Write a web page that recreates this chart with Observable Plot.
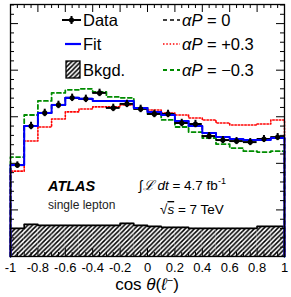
<!DOCTYPE html>
<html><head><meta charset="utf-8">
<script src="https://cdn.jsdelivr.net/npm/d3@7"></script>
<script src="https://cdn.jsdelivr.net/npm/@observablehq/plot@0.6"></script>
<style>body{margin:0;background:#fff} svg{display:block}</style>
</head><body><div id="chart"></div>
<script>
// ---- data (events per bin, arbitrary units; major y tick = 500) ----
const binEdges = [-1,-0.9,-0.8,-0.7,-0.6,-0.5,-0.4,-0.3,-0.2,-0.1,0,0.1,0.2,0.3,0.4,0.5,0.6,0.7,0.8,0.9,1];
const dataValues   = [981,1401,1541,1627,1703,1692,1756,1595,1638,1584,1530,1530,1433,1422,1293,1250,1239,1228,1261,1282];
const dataErrors   = [35,40,40,40,40,40,40,40,40,40,40,40,40,40,38,38,38,38,38,38];
const fitValues    = [981,1401,1541,1627,1703,1692,1670,1670,1670,1595,1552,1519,1455,1401,1325,1282,1261,1250,1250,1272];
const ap0Values    = [981,1401,1541,1627,1703,1692,1670,1670,1670,1595,1552,1519,1455,1401,1325,1282,1261,1250,1250,1272];
const apPlusValues = [916,1239,1390,1476,1552,1584,1606,1606,1627,1595,1573,1541,1519,1487,1466,1433,1412,1412,1422,1466];
const apMinusValues= [1067,1519,1670,1756,1789,1800,1767,1713,1703,1595,1530,1466,1390,1336,1272,1207,1164,1131,1121,1131];
const bkgValues    = [302,345,334,334,334,334,334,334,356,334,323,313,313,302,302,302,302,302,323,323];

const xMajorTicks = [-1,-0.8,-0.6,-0.4,-0.2,0,0.2,0.4,0.6,0.8,1];
const xTickLabels = ["-1","-0.8","-0.6","-0.4","-0.2","0","0.2","0.4","0.6","0.8","1"];
const xMinorTicks = [-0.95,-0.9,-0.85,-0.75,-0.7,-0.65,-0.55,-0.5,-0.45,-0.35,-0.3,-0.25,-0.15,-0.1,-0.05,0.05,0.1,0.15,0.25,0.3,0.35,0.45,0.5,0.55,0.65,0.7,0.75,0.85,0.9,0.95];
const yMajorTicks = [500,1000,1500,2000,2500];
const yMinorTicks = [100,200,300,400,600,700,800,900,1100,1200,1300,1400,1600,1700,1800,1900,2100,2200,2300,2400,2600,2700];

const legendLeft  = ["Data","Fit","Bkgd."];
const legendRight = ["= 0","= +0.3","= \u22120.3"];

// ---- helpers ----
function stepPoints(values){
  const pts=[{x:binEdges[0],y:0}];
  values.forEach((v,i)=>{pts.push({x:binEdges[i],y:v});pts.push({x:binEdges[i+1],y:v});});
  pts.push({x:binEdges[binEdges.length-1],y:0});
  return pts;
}
const bins = dataValues.map((v,i)=>({lo:binEdges[i],hi:binEdges[i+1],c:(binEdges[i]+binEdges[i+1])/2,v,e:dataErrors[i],b:bkgValues[i]}));

const W=291,H=297,mL=10,mR=7,mT=4,mB=41;
const fw=W-mL-mR, fh=H-mT-mB;
const font="Liberation Sans, Arial, Helvetica, sans-serif";

const plot = Plot.plot({
  width:W,height:H,marginLeft:mL,marginRight:mR,marginTop:mT,marginBottom:mB,
  style:{fontFamily:font,background:"white",color:"black"},
  x:{domain:[-1,1],axis:null},
  y:{domain:[0,2705],axis:null},
  marks:[
    Plot.rectY(bins,{x1:"lo",x2:"hi",y:"b",fill:"url(#hatch)",inset:0}),
    Plot.line(stepPoints(bkgValues),{x:"x",y:"y",stroke:"black",strokeWidth:1.6}),
    Plot.line(stepPoints(apMinusValues),{x:"x",y:"y",stroke:"#008c00",strokeWidth:1.8,strokeDasharray:"4,3"}),
    Plot.line(stepPoints(apPlusValues),{x:"x",y:"y",stroke:"#ff0000",strokeWidth:1.6,strokeDasharray:"1.5,1.8"}),
    Plot.line(stepPoints(ap0Values),{x:"x",y:"y",stroke:"black",strokeWidth:1.6,strokeDasharray:"4,3"}),
    Plot.ruleY(bins,{x1:"lo",x2:"hi",y:"v",stroke:"black",strokeWidth:2}),
    Plot.line(stepPoints(fitValues),{x:"x",y:"y",stroke:"#0000ff",strokeWidth:2}),
    Plot.ruleX(bins,{x:"c",y1:d=>d.v-d.e,y2:d=>d.v+d.e,stroke:"black",strokeWidth:2}),
    Plot.dot(bins,{x:"c",y:"v",r:2.6,fill:"black",stroke:"none"}),
    // ticks (inward, ROOT style)
    Plot.tickX(xMajorTicks,{x:d=>d,insetTop:fh-8,stroke:"black"}),
    Plot.tickX(xMajorTicks,{x:d=>d,insetBottom:fh-8,stroke:"black"}),
    Plot.tickX(xMinorTicks,{x:d=>d,insetTop:fh-4,stroke:"black"}),
    Plot.tickX(xMinorTicks,{x:d=>d,insetBottom:fh-4,stroke:"black"}),
    Plot.tickY(yMajorTicks,{y:d=>d,insetRight:fw-8,stroke:"black"}),
    Plot.tickY(yMajorTicks,{y:d=>d,insetLeft:fw-8,stroke:"black"}),
    Plot.tickY(yMinorTicks,{y:d=>d,insetRight:fw-4,stroke:"black"}),
    Plot.tickY(yMinorTicks,{y:d=>d,insetLeft:fw-4,stroke:"black"}),
    Plot.axisX(xMajorTicks,{anchor:"bottom",tickSize:0,tickPadding:6,fontSize:13,label:null,
      tickFormat:d=>xTickLabels[xMajorTicks.indexOf(d)]}),
    Plot.frame({stroke:"black",strokeWidth:1.3})
  ]
});
document.getElementById("chart").appendChild(plot);

// ---- defs, legend, annotations ----
const svg=d3.select(plot);
const defs=svg.insert("defs",":first-child");
const pat=defs.append("pattern").attr("id","hatch").attr("patternUnits","userSpaceOnUse").attr("width",4.6).attr("height",4.6);
pat.append("rect").attr("width",4.6).attr("height",4.6).attr("fill","white");
pat.append("path").attr("d","M-1,1 L1,-1 M0,4.6 L4.6,0 M3.6,5.6 L5.6,3.6").attr("stroke","black").attr("stroke-width",1.5);

const g=svg.append("g").attr("font-family",font).attr("fill","black").attr("text-anchor","start");
const sx=plot.scale("x");
// left legend column
const rowsY=[20,44,70];
g.append("line").attr("x1",62).attr("x2",81).attr("y1",rowsY[0]).attr("y2",rowsY[0]).attr("stroke","black").attr("stroke-width",2);
g.append("line").attr("x1",71.5).attr("x2",71.5).attr("y1",rowsY[0]-4).attr("y2",rowsY[0]+4).attr("stroke","black").attr("stroke-width",2);
g.append("circle").attr("cx",71.5).attr("cy",rowsY[0]).attr("r",2.6);
g.append("line").attr("x1",65).attr("x2",81).attr("y1",rowsY[1]).attr("y2",rowsY[1]).attr("stroke","#0000ff").attr("stroke-width",2.2);
g.append("rect").attr("x",66).attr("y",rowsY[2]-9).attr("width",14).attr("height",17).attr("fill","url(#hatch)").attr("stroke","black").attr("stroke-width",1.3);
legendLeft.forEach((t,i)=>g.append("text").attr("x",83).attr("y",rowsY[i]).attr("dy","0.36em").attr("font-size",16.5).text(t));
// right legend column
const rStyles=[{s:"black",d:"4,3",w:1.6},{s:"#ff0000",d:"1.5,1.8",w:1.6},{s:"#008c00",d:"4,3",w:1.8}];
legendRight.forEach((t,i)=>{
  g.append("line").attr("x1",163).attr("x2",180).attr("y1",rowsY[i]).attr("y2",rowsY[i]).attr("stroke",rStyles[i].s).attr("stroke-dasharray",rStyles[i].d).attr("stroke-width",rStyles[i].w);
  const tx=g.append("text").attr("x",182).attr("y",rowsY[i]).attr("dy","0.36em").attr("font-size",16.5);
  tx.append("tspan").attr("font-style","italic").text("\u03b1P");
  tx.append("tspan").text(" "+t);
});
// annotations
g.append("text").attr("x",48).attr("y",191).attr("font-size",14.5).attr("font-weight","bold").attr("font-style","italic").text("ATLAS");
g.append("text").attr("x",48).attr("y",209).attr("font-size",12).attr("fill","#222").text("single lepton");
const lum=g.append("text").attr("x",139).attr("y",190).attr("font-size",13.5);
lum.append("tspan").attr("font-style","italic").text("\u222b\u2112 dt");
lum.append("tspan").text(" = 4.7 fb");
lum.append("tspan").attr("dy",-6).attr("font-size",9).text("-1");
const rs=g.append("text").attr("x",160).attr("y",214).attr("font-size",13.5);
rs.append("tspan").text("\u221a");
rs.append("tspan").attr("font-style","italic").attr("text-decoration","overline").text("s");
rs.append("tspan").text(" = 7 TeV");
// x axis title
const xt=g.append("text").attr("x",sx.apply(0)).attr("y",290).attr("text-anchor","middle").attr("font-size",17);
xt.append("tspan").text("cos ");
xt.append("tspan").attr("font-style","italic").text("\u03b8");
xt.append("tspan").text("(");
xt.append("tspan").attr("font-style","italic").text("\u2113");
xt.append("tspan").attr("dy",-6).attr("font-size",11).text("\u2212");
xt.append("tspan").attr("dy",6).text(")");
</script>
</body></html>
